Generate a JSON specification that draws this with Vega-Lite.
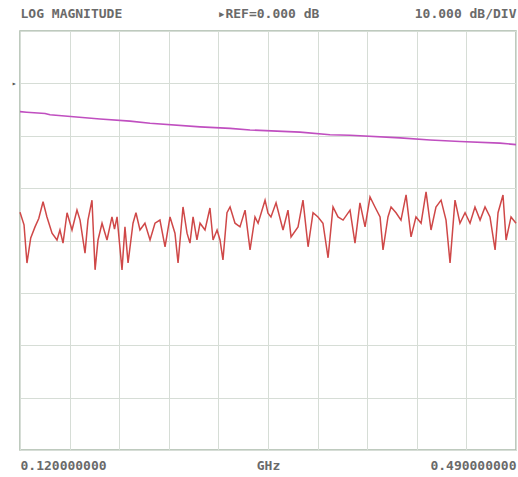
{
  "$schema": "https://vega.github.io/schema/vega-lite/v6.json",
  "autosize": {"type": "none"},
  "width": 496,
  "height": 419,
  "padding": {"left": 20, "top": 31, "right": 2, "bottom": 27},
  "background": "white",
  "config": {
    "view": {"stroke": "#a9b9a9", "strokeWidth": 1.5},
    "axis": {"labelFont": "DejaVu Sans Mono", "labelFontWeight": "bold", "labelColor": "#6a6a6a", "labelFontSize": 13, "labelOverlap": false}
  },
  "datasets": {
    "ref": [
      {"f": 0.1200, "db": -5.4}, {"f": 0.1250, "db": -5.5}, {"f": 0.1387, "db": -5.75}, {"f": 0.1424, "db": -6.0}, {"f": 0.1797, "db": -6.8},
      {"f": 0.2021, "db": -7.2}, {"f": 0.2170, "db": -7.6}, {"f": 0.2543, "db": -8.3}, {"f": 0.2767, "db": -8.6},
      {"f": 0.2916, "db": -8.9}, {"f": 0.3289, "db": -9.3}, {"f": 0.3513, "db": -9.8}, {"f": 0.3662, "db": -9.9},
      {"f": 0.4035, "db": -10.4}, {"f": 0.4259, "db": -10.8}, {"f": 0.4482, "db": -11.1}, {"f": 0.4780, "db": -11.4},
      {"f": 0.4900, "db": -11.7}
    ],
    "meas": [
      {"f": 0.1200, "db": -24.6}, {"f": 0.1230, "db": -27.0}, {"f": 0.1252, "db": -34.3}, {"f": 0.1280, "db": -29.5}, {"f": 0.1312, "db": -27.4}, {"f": 0.1340, "db": -25.8}, {"f": 0.1372, "db": -22.6},
      {"f": 0.1401, "db": -25.5}, {"f": 0.1439, "db": -28.6}, {"f": 0.1476, "db": -29.9}, {"f": 0.1498, "db": -28.0},
      {"f": 0.1521, "db": -30.5}, {"f": 0.1551, "db": -24.7}, {"f": 0.1588, "db": -28.0}, {"f": 0.1625, "db": -24.2},
      {"f": 0.1648, "db": -26.1}, {"f": 0.1685, "db": -32.4}, {"f": 0.1707, "db": -26.1}, {"f": 0.1737, "db": -22.3},
      {"f": 0.1760, "db": -35.6}, {"f": 0.1782, "db": -29.9}, {"f": 0.1812, "db": -26.7}, {"f": 0.1849, "db": -29.9},
      {"f": 0.1886, "db": -25.5}, {"f": 0.1905, "db": -27.8}, {"f": 0.1924, "db": -25.5}, {"f": 0.1961, "db": -35.6}, {"f": 0.1983, "db": -27.4},
      {"f": 0.2006, "db": -34.3}, {"f": 0.2043, "db": -26.7}, {"f": 0.2065, "db": -24.7}, {"f": 0.2095, "db": -28.0},
      {"f": 0.2132, "db": -26.7}, {"f": 0.2170, "db": -29.9}, {"f": 0.2207, "db": -26.7}, {"f": 0.2244, "db": -26.1},
      {"f": 0.2282, "db": -31.2}, {"f": 0.2319, "db": -25.5}, {"f": 0.2356, "db": -28.6}, {"f": 0.2379, "db": -34.3},
      {"f": 0.2416, "db": -23.6}, {"f": 0.2446, "db": -28.6}, {"f": 0.2468, "db": -30.5}, {"f": 0.2491, "db": -25.5},
      {"f": 0.2520, "db": -29.9}, {"f": 0.2543, "db": -26.7}, {"f": 0.2580, "db": -28.0}, {"f": 0.2617, "db": -23.8},
      {"f": 0.2640, "db": -29.9}, {"f": 0.2670, "db": -28.0}, {"f": 0.2692, "db": -29.9}, {"f": 0.2714, "db": -33.7},
      {"f": 0.2744, "db": -24.7}, {"f": 0.2767, "db": -23.6}, {"f": 0.2804, "db": -26.7}, {"f": 0.2841, "db": -27.4},
      {"f": 0.2879, "db": -24.2}, {"f": 0.2916, "db": -31.8}, {"f": 0.2953, "db": -25.5}, {"f": 0.2976, "db": -26.7},
      {"f": 0.3028, "db": -22.3}, {"f": 0.3050, "db": -24.8}, {"f": 0.3072, "db": -25.5}, {"f": 0.3110, "db": -22.8}, {"f": 0.3162, "db": -28.0},
      {"f": 0.3199, "db": -24.2}, {"f": 0.3222, "db": -29.3}, {"f": 0.3274, "db": -27.4}, {"f": 0.3311, "db": -22.3},
      {"f": 0.3349, "db": -31.2}, {"f": 0.3386, "db": -24.7}, {"f": 0.3423, "db": -25.5}, {"f": 0.3460, "db": -26.7},
      {"f": 0.3498, "db": -33.3}, {"f": 0.3535, "db": -23.6}, {"f": 0.3572, "db": -25.5}, {"f": 0.3610, "db": -26.1},
      {"f": 0.3662, "db": -24.2}, {"f": 0.3699, "db": -30.5}, {"f": 0.3736, "db": -22.8}, {"f": 0.3774, "db": -27.4},
      {"f": 0.3811, "db": -21.7}, {"f": 0.3848, "db": -23.6}, {"f": 0.3886, "db": -25.5}, {"f": 0.3908, "db": -31.8},
      {"f": 0.3945, "db": -25.5}, {"f": 0.3968, "db": -23.6}, {"f": 0.4005, "db": -24.7}, {"f": 0.4042, "db": -26.1},
      {"f": 0.4080, "db": -21.3}, {"f": 0.4117, "db": -29.3}, {"f": 0.4154, "db": -25.5}, {"f": 0.4192, "db": -26.7},
      {"f": 0.4229, "db": -20.7}, {"f": 0.4266, "db": -28.0}, {"f": 0.4303, "db": -23.6}, {"f": 0.4341, "db": -22.3},
      {"f": 0.4378, "db": -26.1}, {"f": 0.4408, "db": -34.3}, {"f": 0.4445, "db": -22.3}, {"f": 0.4482, "db": -26.7},
      {"f": 0.4520, "db": -24.7}, {"f": 0.4557, "db": -26.7}, {"f": 0.4594, "db": -23.6}, {"f": 0.4632, "db": -26.1},
      {"f": 0.4669, "db": -23.6}, {"f": 0.4706, "db": -25.5}, {"f": 0.4744, "db": -31.8}, {"f": 0.4766, "db": -24.7},
      {"f": 0.4803, "db": -21.3}, {"f": 0.4826, "db": -29.9}, {"f": 0.4863, "db": -25.5}, {"f": 0.4900, "db": -26.7}
    ]
  },
  "layer": [
    {
      "data": {"name": "ref"},
      "mark": {"type": "line", "color": "#c04fc0", "strokeWidth": 1.6},
      "encoding": {
        "x": {
          "field": "f", "type": "quantitative",
          "scale": {"domain": [0.12, 0.49], "nice": false, "zero": false},
          "axis": {
            "orient": "bottom", "title": null, "domain": false, "ticks": false,
            "grid": true, "gridColor": "#d6ddd6", "gridWidth": 1,
            "values": [0.12, 0.157, 0.194, 0.231, 0.268, 0.305, 0.342, 0.379, 0.416, 0.453, 0.49],
            "labelExpr": "abs(datum.value-0.12)<0.001 ? '0.120000000' : abs(datum.value-0.49)<0.001 ? '0.490000000' : abs(datum.value-0.305)<0.001 ? 'GHz' : ''",
            "labelFlush": true, "labelPadding": 9
          }
        },
        "y": {
          "field": "db", "type": "quantitative",
          "scale": {"domain": [-70, 10], "nice": false, "zero": false},
          "axis": {
            "orient": "left", "title": null, "domain": false, "ticks": false,
            "grid": true, "gridColor": "#d6ddd6", "gridWidth": 1,
            "values": [-70, -60, -50, -40, -30, -20, -10, 0, 10],
            "labelExpr": "datum.value == 0 ? '▸' : ''",
            "labelFontSize": 8, "labelPadding": 4, "labelColor": "#555555"
          }
        }
      }
    },
    {
      "data": {"name": "meas"},
      "mark": {"type": "line", "color": "#cf4848", "strokeWidth": 1.5},
      "encoding": {
        "x": {
          "field": "f", "type": "quantitative",
          "axis": {
            "orient": "top", "title": null, "domain": false, "ticks": false, "grid": false,
            "values": [0.12, 0.305, 0.49],
            "labelExpr": "datum.value < 0.2 ? 'LOG MAGNITUDE' : datum.value > 0.4 ? '10.000 dB/DIV' : '▸REF=0.000 dB'",
            "labelFlush": true, "labelPadding": 11
          }
        },
        "y": {"field": "db", "type": "quantitative", "axis": null}
      }
    }
  ],
  "resolve": {"axis": {"x": "independent", "y": "independent"}}
}
